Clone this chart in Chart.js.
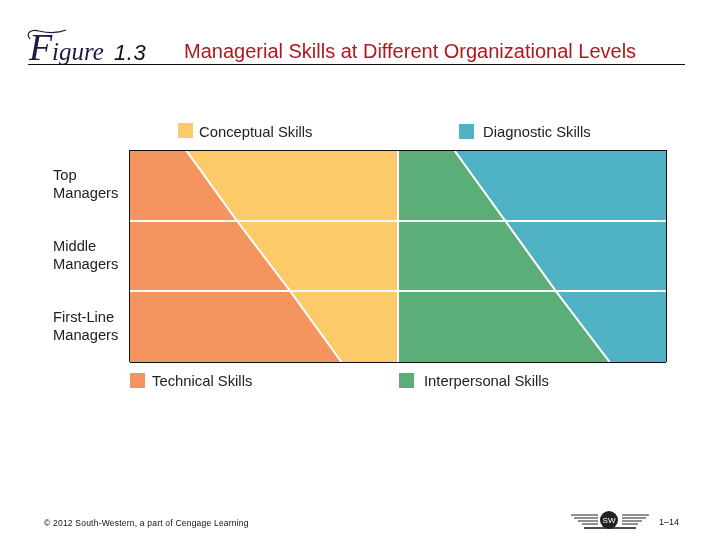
<!DOCTYPE html>
<html><head><meta charset="utf-8">
<script src="https://cdn.jsdelivr.net/npm/chart.js@4"></script>
<style>
html,body{margin:0;padding:0;background:#fff;width:720px;height:540px;overflow:hidden}
#wrap{position:relative;width:720px;height:540px;font-family:"Liberation Sans",sans-serif}
#wrap canvas{position:absolute;left:0;top:0}
.t{position:absolute;white-space:nowrap;line-height:1}
.sw{position:absolute;width:15px;height:15px}
</style></head><body>
<div id="wrap">
<canvas id="c" width="720" height="540"></canvas>
<div class="t" style="left:29px;top:25px;font:italic 38px 'Liberation Serif';color:#1b1b45">F</div>
<svg style="position:absolute;left:24px;top:26px" width="45" height="20" viewBox="0 0 45 20"><path d="M6 13C1 7 7 3 15 5C24 7 32 8 42 4" stroke="#1b1b45" stroke-width="1.2" fill="none"/></svg>
<div class="t" style="left:52px;top:38px;font:italic 25px 'Liberation Serif';color:#1b1b45">igure</div>
<div class="t" style="left:114px;top:40px;font:italic 22px 'Liberation Sans';color:#111;letter-spacing:.6px">1.3</div>
<div class="t" id="title" style="left:184px;top:41px;font-size:20px;color:#b01820">Managerial Skills at Different Organizational Levels</div>
<div style="position:absolute;left:28px;top:64px;width:657px;height:1px;background:#111"></div>
<div id="legend"></div>
<div class="t" style="left:44px;top:519px;font-size:8.5px;color:#111;letter-spacing:.21px">© 2012 South-Western, a part of Cengage Learning</div>
<div class="t" style="left:659px;top:518px;font-size:9px;color:#111">1–14</div>
<svg style="position:absolute;left:570px;top:510px" width="80" height="22" viewBox="0 0 80 22">
<path d="M1 5H28M4 8H28M8 11H28M12 14H28M52 5H79M52 8H76M52 11H72M52 14H68" stroke="#222" stroke-width="1.2" fill="none"/>
<path d="M14 18H66" stroke="#111" stroke-width="1.6"/>
<circle cx="39" cy="10" r="9" fill="#222"/>
<text x="39" y="13" text-anchor="middle" font-size="8" font-family="Liberation Sans" fill="#fff">SW</text>
</svg>
</div>
<script>
const levelLabels = [["First-Line","Managers"],["Middle","Managers"],["Top","Managers"]];
const boundaryLevels = [3,2,1,0];
const technicalShare = [21,40,60,79];
const interpersonalShare = [21,40,59,79];
const panelWidth = 100;
const skillNames = ["Conceptual Skills","Diagnostic Skills","Technical Skills","Interpersonal Skills"];
const skillColors = ["#fdca6a","#4fb2c5","#f4945f","#5bae78"];

const pts = (share, off) => [{x:off,y:3}].concat(boundaryLevels.map((l,i)=>({x:off+share[i],y:l})));
const block = off => [{x:off,y:3},{x:off+panelWidth,y:3},{x:off+panelWidth,y:0}];

new Chart(document.getElementById('c'),{
  type:'line',
  data:{datasets:[
    {label:skillNames[2],data:pts(technicalShare,0),backgroundColor:skillColors[2],fill:'origin',borderColor:'#fff',borderWidth:2,pointRadius:0,order:1},
    {label:skillNames[3],data:pts(interpersonalShare,panelWidth),backgroundColor:skillColors[3],fill:'origin',borderColor:'#fff',borderWidth:2,pointRadius:0,order:2},
    {label:skillNames[0],data:block(0),backgroundColor:skillColors[0],fill:'origin',borderWidth:0,pointRadius:0,order:3},
    {label:skillNames[1],data:block(panelWidth),backgroundColor:skillColors[1],fill:'origin',borderWidth:0,pointRadius:0,order:4}
  ]},
  options:{
    responsive:false,animation:false,
    layout:{padding:{left:53,top:150,right:54,bottom:178}},
    plugins:{legend:{display:false},tooltip:{enabled:false}},
    elements:{line:{tension:0}},
    scales:{
      x:{type:'linear',min:0,max:panelWidth*2,border:{display:false},
        afterBuildTicks:s=>{s.ticks=[0,panelWidth,panelWidth*2].map(v=>({value:v}))},
        afterFit:s=>{s.height=0},
        ticks:{display:false},
        grid:{z:1,drawTicks:false,
          color:c=>c.tick.value===panelWidth?'#fff':'#111',
          lineWidth:c=>c.tick.value===panelWidth?2:1}},
      y:{type:'linear',min:0,max:3,border:{display:false},
        afterBuildTicks:s=>{s.ticks=[0,.5,1,1.5,2,2.5,3].map(v=>({value:v}))},
        afterFit:s=>{s.width=76.5},
        ticks:{autoSkip:false,crossAlign:'far',padding:0,color:'#222',
          font:{family:'"Liberation Sans"',size:14.7,lineHeight:1.22},
          callback:v=>v%1?levelLabels[Math.floor(v)]:''},
        grid:{z:1,drawTicks:false,
          color:c=>{const v=c.tick.value;return v%1?'rgba(0,0,0,0)':(v===0||v===3?'#111':'#fff')},
          lineWidth:c=>{const v=c.tick.value;return v===0||v===3?1:2}}}
    }
  }
});

const legendPlaces=[[178,123,199,125],[459,124,483,125],[130,373,152,374],[399,373,424,374]];
document.getElementById('legend').innerHTML=skillNames.map((n,i)=>{
  const p=legendPlaces[i];
  return `<div class="sw" style="left:${p[0]}px;top:${p[1]}px;background:${skillColors[i]}"></div><div class="t" style="left:${p[2]}px;top:${p[3]}px;font-size:14.8px;color:#222">${n}</div>`;
}).join('');
</script>
</body></html>
